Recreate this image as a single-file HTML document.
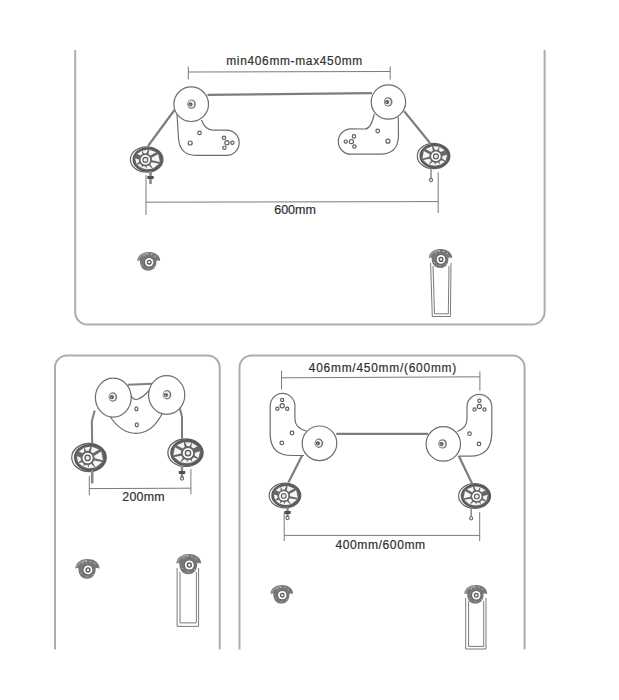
<!DOCTYPE html>
<html><head><meta charset="utf-8">
<style>
html,body{margin:0;padding:0;background:#fff;width:619px;height:700px;overflow:hidden}
svg{display:block}
text{font-family:"Liberation Sans",sans-serif;fill:#303030;stroke:#303030;stroke-width:0.2}
</style></head>
<body>
<svg width="619" height="700" viewBox="0 0 619 700">
<defs>
  <g id="wheel">
    <ellipse cx="0" cy="0" rx="16.3" ry="12.7" fill="#fff" stroke="#666" stroke-width="1.2"/>
    <ellipse cx="1" cy="0" rx="14.4" ry="11.6" fill="#676767" stroke="#575757" stroke-width="1.5"/>
    <path d="M-6.24,-3.97 L-9.48,-5.44 L-4.87,-8.67 L-4.35,-5.45Z M-2.73,-6.04 L-4.40,-8.85 L1.34,-9.81 L-0.32,-6.13Z M1.75,-5.45 L2.69,-9.74 L9.48,-7.29 L3.64,-3.97Z M4.96,-1.69 L11.51,-5.44 L13.17,2.56 L5.29,0.69Z M4.84,2.82 L12.41,4.20 L6.27,8.95 L3.57,4.86Z M2.25,5.97 L5.66,9.15 L-0.40,9.75 L0.02,6.87Z M-1.24,7.00 L-0.23,9.76 L-5.32,8.47 L-3.61,6.58Z M-4.85,5.97 L-5.32,8.47 L-9.61,5.29 L-6.61,4.33Z M-7.56,2.49 L-10.22,4.47 L-11.52,-1.13 L-7.89,0.11Z" fill="#f6f6f6"/>
    <circle cx="-1.3" cy="0.4" r="4.8" fill="#fff"/>
    <circle cx="-1.3" cy="0.4" r="2.5" fill="#e8e8e8" stroke="#555" stroke-width="1.1"/>
  </g>
  <g id="wheelR">
    <ellipse cx="0" cy="0" rx="16.3" ry="12.7" fill="#fff" stroke="#666" stroke-width="1.2"/>
    <ellipse cx="1" cy="0" rx="14.4" ry="11.6" fill="#676767" stroke="#575757" stroke-width="1.5"/>
    <path d="M5.35,-5.45 L6.00,-8.99 L11.09,-5.87 L7.24,-3.97Z M1.32,-6.13 L-0.33,-9.76 L5.50,-9.15 L3.73,-6.04Z M-2.64,-3.97 L-7.96,-6.92 L-1.64,-9.60 L-0.75,-5.45Z M-4.29,0.69 L-11.22,2.42 L-9.77,-5.10 L-3.96,-1.69Z M-2.57,4.86 L-5.00,8.65 L-10.54,3.96 L-3.84,2.82Z M0.98,6.87 L1.39,9.80 L-4.44,8.87 L-1.25,5.97Z M4.61,6.58 L6.50,8.82 L1.23,9.80 L2.24,7.00Z M7.61,4.33 L11.27,5.69 L6.50,8.82 L5.85,5.97Z M8.89,0.11 L13.49,-1.27 L11.99,4.81 L8.56,2.49Z" fill="#f6f6f6"/>
    <circle cx="2.3" cy="0.4" r="4.8" fill="#fff"/>
    <circle cx="2.3" cy="0.4" r="2.5" fill="#e8e8e8" stroke="#555" stroke-width="1.1"/>
  </g>
  <g id="bhead">
    <path d="M-12,-1.2 C-12,-7.2 -6,-10.3 -0.5,-10.3 C5.5,-10.3 11,-7.2 11,-1.2 C10,-1.8 8.5,-2 7.3,-1.5 C7.5,5 4,8.5 -1,8.5 C-6,8.5 -9.2,5 -9.2,-1.5 C-10,-2 -11,-1.8 -12,-1.2 Z" fill="#787878"/>
    <path d="M-10.8,-2.5 C-9.5,-7 -5,-8.8 -1,-8.8" fill="none" stroke="#c4c4c4" stroke-width="0.8"/>
    <g fill="#d0d0d0">
      <circle cx="-5" cy="-6.5" r="0.6"/><circle cx="-1.5" cy="-8" r="0.6"/><circle cx="2.5" cy="-7.8" r="0.6"/><circle cx="6" cy="-6" r="0.6"/>
      <circle cx="-6.5" cy="3" r="0.5"/><circle cx="4.8" cy="4.5" r="0.5"/><circle cx="-1" cy="6.5" r="0.5"/>
    </g>
    <circle cx="0" cy="0" r="5.2" fill="#666"/>
    <circle cx="0" cy="0" r="4.2" fill="#fff"/>
    <circle cx="0" cy="0" r="1.9" fill="#f0f0f0" stroke="#555" stroke-width="1.2"/>
  </g>
  <g id="hubsm">
    <ellipse cx="0" cy="0" rx="4.3" ry="4.7" fill="#7a7a7a"/>
    <ellipse cx="-0.4" cy="0" rx="3.1" ry="3.5" fill="#f4f4f4"/>
    <circle cx="-1.1" cy="0.2" r="2.1" fill="#5e5e5e"/>
    <circle cx="-1.5" cy="0.6" r="0.6" fill="#ccc"/>
  </g>
</defs>

<!-- panel frames -->
<g fill="none" stroke="#adadad" stroke-width="2">
  <path d="M75.2,50 L75.2,312 A12.5,12.5 0 0 0 87.7,324.6 L531.8,324.6 A12.8,12.8 0 0 0 544.6,311.8 L544.6,50"/>
  <path d="M55,649.5 L55,367.5 A12,12 0 0 1 67,355.5 L207.7,355.5 A12,12 0 0 1 219.7,367.5 L219.7,649.5"/>
  <path d="M239.5,649.5 L239.5,367.5 A12,12 0 0 1 251.5,355.5 L512.6,355.5 A12,12 0 0 1 524.6,367.5 L524.6,649.5"/>
</g>

<!-- ================= TOP PANEL ================= -->
<g fill="none" stroke="#7a7a7a" stroke-width="1">
  <!-- dimension min406-max450 -->
  <line x1="188.3" y1="66.5" x2="188.3" y2="79.5"/>
  <line x1="390.2" y1="66.5" x2="390.2" y2="79.5"/>
  <line x1="188.3" y1="72" x2="390.2" y2="71.5"/>
  <!-- 600mm -->
  <line x1="146" y1="175" x2="146" y2="215"/>
  <line x1="438.2" y1="172.5" x2="438.2" y2="213"/>
  <line x1="146" y1="202.2" x2="438.2" y2="201.6"/>
</g>
<g fill="none" stroke="#7e7e7e" stroke-width="2.2">
  <!-- cables -->
  <line x1="207.5" y1="94.8" x2="372" y2="93.1"/>
  <line x1="174.5" y1="110" x2="148" y2="146"/>
  <line x1="404.2" y1="111.3" x2="430" y2="143"/>
</g>
<g fill="#fff" stroke="#6e6e6e" stroke-width="1.2">
  <!-- left plate -->
  <path d="M177,114 L178.5,138 Q179.5,155.3 196,155.3 L226.6,155.3 A12.6,12.6 0 0 0 226.6,130.1 L213,130.1 Q205,130 201.5,120"/>
  <circle cx="191.2" cy="104.2" r="17.3"/>
  <!-- right plate -->
  <path d="M398.3,117 L398.5,136 Q398,154.2 380,154.2 L351,154.2 A12.7,12.7 0 0 1 351,128.8 L365,129 Q371,129 374.3,114"/>
  <circle cx="388.4" cy="102" r="17.2"/>
</g>
<g fill="none" stroke="#606060" stroke-width="1.2">
  <circle cx="199.5" cy="132.9" r="1.8"/>
  <circle cx="190.2" cy="143" r="2"/>
  <circle cx="224" cy="137.8" r="1.7"/>
  <circle cx="226.9" cy="142.8" r="2.1"/>
  <circle cx="232.4" cy="142.8" r="1.6"/>
  <circle cx="224.4" cy="147.7" r="1.7"/>
  <circle cx="377.7" cy="131" r="1.8"/>
  <circle cx="387.9" cy="141.2" r="2"/>
  <circle cx="354" cy="136.4" r="1.7"/>
  <circle cx="351.4" cy="141.6" r="2.1"/>
  <circle cx="345.7" cy="141.6" r="1.6"/>
  <circle cx="354.4" cy="146.5" r="1.7"/>
</g>
<use href="#hubsm" x="191.5" y="104.1"/>
<use href="#hubsm" x="388.2" y="101.9"/>
<!-- wheels -->
<use href="#wheel" transform="translate(146.7,159.5)"/>
<use href="#wheelR" transform="translate(433.6,156)"/>
<!-- bolts -->
<g stroke="#888" fill="#777" stroke-linecap="round">
  <line x1="150.5" y1="172" x2="150.5" y2="183" stroke-width="2.6"/>
  <rect x="147.3" y="176" width="6.4" height="3" stroke="none" fill="#505050"/>
  <line x1="431" y1="168.5" x2="431" y2="178.5" stroke-width="1.3" stroke="#777"/>
  <circle cx="431" cy="180" r="1.6" fill="#fff" stroke="#666" stroke-width="1.1"/>
</g>
<text x="226.2" y="65" font-size="11.9" textLength="136" lengthAdjust="spacing">min406mm-max450mm</text>
<text x="274.2" y="214.4" font-size="12.5" textLength="41.6" lengthAdjust="spacing">600mm</text>
<!-- brackets -->
<use href="#bhead" transform="translate(149.2,262.2)"/>
<g fill="#fff" stroke="#7a7a7a" stroke-width="1">
  <path d="M430.6,263 L432.3,316.5 L450.4,316.5 L451,263"/>
  <path d="M433,266 L434.5,313.8 L448.3,313.8 L449,266"/>
</g>
<use href="#bhead" transform="translate(441,259.4) scale(1.02)"/>

<!-- ================= BOTTOM LEFT PANEL ================= -->
<g fill="none" stroke="#7e7e7e" stroke-width="2">
  <line x1="127.7" y1="384.8" x2="151.9" y2="383.8"/>
  <path d="M94.7,410.6 L91.8,421.2 L92.2,443"/>
  <path d="M180,408.6 L182,417 L182,438.5"/>
</g>
<g fill="#fff" stroke="#6e6e6e" stroke-width="1.2">
  <path d="M129,392 Q132,399.5 136,399.5 Q141,399.5 149.5,390 L162.5,413 C155,428 145,433.3 136,433.3 C126,433.3 117,427 110,416.5 Z"/>
  <ellipse cx="113.3" cy="397.6" rx="17.9" ry="19.5"/>
  <ellipse cx="166.7" cy="395" rx="18.1" ry="19.3"/>
</g>
<g fill="none" stroke="#606060" stroke-width="1.2">
  <ellipse cx="136.4" cy="408.9" rx="1.5" ry="2"/>
  <ellipse cx="136.8" cy="424.8" rx="1.5" ry="2"/>
</g>
<use href="#hubsm" x="112.9" y="397"/>
<use href="#hubsm" x="167" y="394.8"/>
<use href="#wheel" transform="translate(89,457.5) scale(1.06,1.1)"/>
<use href="#wheelR" transform="translate(185.5,452.7) scale(1.08,1.08)"/>
<g stroke="#888" fill="#777" stroke-linecap="round">
  <line x1="92.2" y1="471" x2="92.2" y2="482.5" stroke-width="2.6"/>
  <line x1="182" y1="466" x2="182" y2="478" stroke-width="2.4"/>
  <rect x="178.8" y="471" width="6.4" height="3" stroke="none" fill="#505050"/>
  <circle cx="182" cy="478.5" r="1.6" fill="#fff" stroke="#666" stroke-width="1.1"/>
</g>
<g fill="none" stroke="#7a7a7a" stroke-width="1">
  <line x1="89.3" y1="476" x2="89.3" y2="495.4"/>
  <line x1="190.9" y1="469" x2="190.9" y2="494.4"/>
  <line x1="89.3" y1="488.6" x2="190.9" y2="488.2"/>
</g>
<text x="122.3" y="501.2" font-size="12.4" textLength="42.2" lengthAdjust="spacing">200mm</text>
<use href="#bhead" transform="translate(88,569.9) scale(1.05)"/>
<g fill="#fff" stroke="#7a7a7a" stroke-width="1">
  <path d="M177.1,568 L177.1,626.4 L198.6,626.4 L198.6,568"/>
  <path d="M180,572 L180,622.9 L196.4,622.9 L196.4,572"/>
</g>
<use href="#bhead" transform="translate(189.3,565) scale(1.08)"/>

<!-- ================= BOTTOM RIGHT PANEL ================= -->
<g fill="none" stroke="#7a7a7a" stroke-width="1">
  <line x1="281.5" y1="370.7" x2="281.5" y2="389.6"/>
  <line x1="479.9" y1="371.4" x2="479.9" y2="390.7"/>
  <line x1="281.5" y1="377.8" x2="479.9" y2="376.8"/>
  <line x1="284.2" y1="512.5" x2="284.2" y2="541"/>
  <line x1="479.7" y1="512" x2="479.7" y2="541.3"/>
  <line x1="284.2" y1="535.4" x2="479.7" y2="535.4"/>
</g>
<text x="308.8" y="371.8" font-size="11.9" textLength="147.4" lengthAdjust="spacing">406mm/450mm/(600mm)</text>
<text x="335.4" y="548.8" font-size="12.1" textLength="89.8" lengthAdjust="spacing">400mm/600mm</text>
<g fill="none" stroke="#7e7e7e" stroke-width="2.2">
  <line x1="336.3" y1="433.9" x2="428.1" y2="433.9"/>
  <line x1="303.6" y1="452.6" x2="288.4" y2="482.4"/>
  <line x1="458.6" y1="455.5" x2="472" y2="483.4"/>
</g>
<g fill="#fff" stroke="#6e6e6e" stroke-width="1.2">
  <path d="M306.5,431 Q294.9,428 294.9,419 L294.9,405.8 A12.35,12.35 0 0 0 270.2,405.8 L270.2,434.4 Q270.5,455.5 292,455.5 L304,455.5"/>
  <circle cx="319.5" cy="443.3" r="17.3"/>
  <path d="M457.2,431.5 Q467,428 467,419 L467,406.8 A12.4,12.4 0 0 1 491.8,406.8 L491.8,433 Q491.5,456.2 470,456.2 L458.6,456.2"/>
  <circle cx="443.3" cy="443.9" r="17.2"/>
</g>
<g fill="none" stroke="#606060" stroke-width="1.2">
  <circle cx="282.2" cy="400" r="1.6"/>
  <circle cx="282.2" cy="405.8" r="2.1"/>
  <circle cx="277.4" cy="408.7" r="1.6"/>
  <circle cx="287.2" cy="408.7" r="1.6"/>
  <circle cx="292" cy="433" r="1.8"/>
  <circle cx="281.8" cy="442.9" r="1.8"/>
  <circle cx="479.4" cy="400.7" r="1.6"/>
  <circle cx="479.4" cy="406.5" r="2.1"/>
  <circle cx="474.6" cy="409.4" r="1.6"/>
  <circle cx="484.5" cy="409.4" r="1.6"/>
  <circle cx="469.5" cy="433.7" r="1.8"/>
  <circle cx="479" cy="443.9" r="1.8"/>
</g>
<use href="#hubsm" x="318.9" y="443.2"/>
<use href="#hubsm" x="442.6" y="443.9"/>
<use href="#wheel" transform="translate(285,495.5) scale(0.97,0.97)"/>
<use href="#wheelR" transform="translate(474.6,496) scale(0.98,0.97)"/>
<g stroke="#888" fill="#777" stroke-linecap="round">
  <line x1="287.5" y1="508" x2="287.5" y2="517.5" stroke-width="2.4"/>
  <rect x="284.3" y="511" width="6.4" height="3" stroke="none" fill="#505050"/>
  <circle cx="287.5" cy="518" r="1.6" fill="#fff" stroke="#666" stroke-width="1.1"/>
  <line x1="471.2" y1="508.5" x2="471.2" y2="517" stroke-width="1.3" stroke="#777"/>
  <circle cx="471.2" cy="518.3" r="1.6" fill="#fff" stroke="#666" stroke-width="1.1"/>
</g>
<use href="#bhead" transform="translate(282.3,595.2) scale(0.98)"/>
<g fill="#fff" stroke="#7a7a7a" stroke-width="1">
  <path d="M465.7,598 L465.7,649 L486,649 L486,598"/>
  <path d="M468.6,601 L468.6,646.4 L483.7,646.4 L483.7,601"/>
</g>
<use href="#bhead" transform="translate(476.3,595.3) scale(1.0)"/>
</svg>
</body></html>
